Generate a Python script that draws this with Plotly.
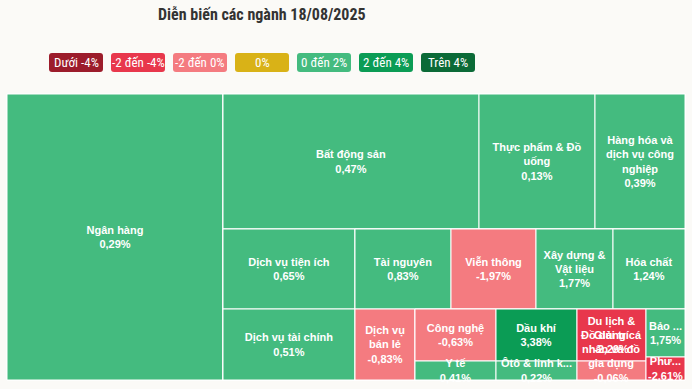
import plotly.graph_objects as go

# ---------------- data ----------------
sectors = [
    "Ngân hàng", "Bất động sản", "Thực phẩm & Đồ uống", "Hàng hóa và dịch vụ công nghiệp",
    "Dịch vụ tiện ích", "Dịch vụ tài chính", "Tài nguyên", "Viễn thông",
    "Xây dựng & Vật liệu", "Hóa chất", "Dịch vụ bán lẻ", "Công nghệ", "Y tế",
    "Dầu khí", "Ôtô & linh kiện", "Du lịch & Giải trí", "Đồ dùng cá nhân và đồ gia dụng",
    "Bảo hiểm", "Phương tiện truyền thông",
]
# text as shown inside the cells (wrapped / truncated like the reference)
display_names = [
    "Ngân hàng", "Bất động sản", "Thực phẩm & Đồ<br>uống", "Hàng hóa và<br>dịch vụ công<br>nghiệp",
    "Dịch vụ tiện ích", "Dịch vụ tài chính", "Tài nguyên", "Viễn thông",
    "Xây dựng &<br>Vật liệu", "Hóa chất", "Dịch vụ<br>bán lẻ", "Công nghệ", "Y tế",
    "Dầu khí", "Ôtô & linh k...", "Du lịch &<br>Giải trí", "Đồ dùng cá<br>nhân và đồ<br>gia dụng",
    "Bảo ...", "Phư...",
]
# blank lines appended below a label (keeps long labels of short cells inside the chart)
extra_blank_lines = [0, 0, 0, 0, 0, 0, 0, 0, 0, 0, 0, 0, 0, 0, 0, 0, 2, 0, 0]
# relative size (market value weight)
market_value = [61776, 34560, 15660, 12150, 10560, 9372, 7680, 6800, 6160, 5760,
                4260, 4212, 1539, 4212, 1539, 3588, 1311, 1872, 897]
change_pct = [0.29, 0.47, 0.13, 0.39, 0.65, 0.51, 0.83, -1.97, 1.77, 1.24,
              -0.83, -0.63, 0.41, 3.38, 0.22, -2.29, -0.06, 1.75, -2.61]
# grouping used to arrange the blocks as in the reference
sector_group = ["root", "g_row1", "g_row1", "g_row1", "g_colA", "g_colA",
                "g_row2b", "g_row2b", "g_row2b", "g_row2b", "g_row3b",
                "g_cn", "g_cn", "g_dk", "g_dk", "g_dl", "g_dl", "g_bh", "g_bh"]
group_ids = ["root", "g_rest", "g_row1", "g_row23", "g_colA", "g_right",
             "g_row2b", "g_row3b", "g_cn", "g_dk", "g_dl", "g_bh"]
group_parents = ["", "root", "g_rest", "g_rest", "g_row23", "g_row23",
                 "g_right", "g_right", "g_row3b", "g_row3b", "g_row3b", "g_row3b"]

legend_labels = ["Dưới -4%", "-2 đến -4%", "-2 đến 0%", "0%", "0 đến 2%", "2 đến 4%", "Trên 4%"]
legend_colors = ["#9c1c2b", "#e8374c", "#f47b80", "#d9b217", "#44bb7f", "#0b9c55", "#0b6a37"]

title_text = "Diễn biến các ngành 18/08/2025"
BG = "#fbfaf7"
NARROW = "Roboto Condensed, Liberation Sans Narrow, Arial Narrow, DejaVu Sans Condensed, sans-serif"


def color_for(p):
    if p < -4:
        return legend_colors[0]
    if p < -2:
        return legend_colors[1]
    if p < 0:
        return legend_colors[2]
    if p == 0:
        return legend_colors[3]
    if p <= 2:
        return legend_colors[4]
    if p <= 4:
        return legend_colors[5]
    return legend_colors[6]


def fmt(p):
    return f"{p:.2f}".replace(".", ",") + "%"


ids = list(sectors) + group_ids
labels = list(sectors) + [""] * len(group_ids)
parents = list(sector_group) + group_parents
values = list(market_value) + [0] * len(group_ids)
colors = [color_for(p) for p in change_pct] + [legend_colors[4]] * len(group_ids)
texts = [f"{d}<br>{fmt(p)}" + "<br>&nbsp;" * n
         for d, p, n in zip(display_names, change_pct, extra_blank_lines)] + [""] * len(group_ids)

fig = go.Figure(go.Treemap(
    ids=ids, labels=labels, parents=parents, values=values,
    branchvalues="remainder", sort=False,
    text=texts, texttemplate="%{text}", textposition="middle center",
    textfont=dict(family="Liberation Sans, Arial, sans-serif", size=11, color="white", weight="bold"),
    marker=dict(colors=colors, line=dict(color="white", width=1),
                pad=dict(t=0, l=0, r=0, b=0), depthfade=False),
    tiling=dict(packing="slice-dice", pad=0),
    pathbar=dict(visible=False),
    hoverinfo="skip",
))

W, H = 692, 389
ML, MR, MT, MB = 7, 7, 94, 9
PW, PH = W - ML - MR, H - MT - MB


def px_x(x):
    return (x - ML) / PW


def px_y(y):
    return (H - MB - y) / PH


shapes = []
annotations = []
annotations.append(dict(
    text=f"<b>{title_text}</b>", x=px_x(262), y=px_y(15), xref="paper", yref="paper",
    xanchor="center", yanchor="middle", showarrow=False,
    font=dict(family=NARROW, size=16, color="#333333"),
))
box_w, box_h, gap, r = 54, 19, 8, 3
start_x, box_top = 49, 53
for i, (lab, col) in enumerate(zip(legend_labels, legend_colors)):
    x0 = start_x + i * (box_w + gap)
    x1 = x0 + box_w
    y0, y1 = box_top, box_top + box_h
    path = (f"M {px_x(x0 + r)},{px_y(y0)} L {px_x(x1 - r)},{px_y(y0)} "
            f"Q {px_x(x1)},{px_y(y0)} {px_x(x1)},{px_y(y0 + r)} "
            f"L {px_x(x1)},{px_y(y1 - r)} Q {px_x(x1)},{px_y(y1)} {px_x(x1 - r)},{px_y(y1)} "
            f"L {px_x(x0 + r)},{px_y(y1)} Q {px_x(x0)},{px_y(y1)} {px_x(x0)},{px_y(y1 - r)} "
            f"L {px_x(x0)},{px_y(y0 + r)} Q {px_x(x0)},{px_y(y0)} {px_x(x0 + r)},{px_y(y0)} Z")
    shapes.append(dict(type="path", path=path, xref="paper", yref="paper",
                       fillcolor=col, line=dict(width=0), layer="above"))
    annotations.append(dict(
        text=lab, x=px_x((x0 + x1) / 2), y=px_y((y0 + y1) / 2), xref="paper", yref="paper",
        xanchor="center", yanchor="middle", showarrow=False,
        font=dict(family=NARROW, size=13, color="white"),
    ))

fig.update_layout(
    width=W, height=H,
    margin=dict(l=ML, r=MR, t=MT, b=MB, pad=0),
    paper_bgcolor=BG, plot_bgcolor=BG,
    uniformtext=dict(minsize=11, mode="show"),
    shapes=shapes, annotations=annotations,
    showlegend=False,
)

fig.write_html("out.html", config={"displayModeBar": False},
               post_script="document.body.style.margin='0';document.body.style.background='%s';" % BG)
